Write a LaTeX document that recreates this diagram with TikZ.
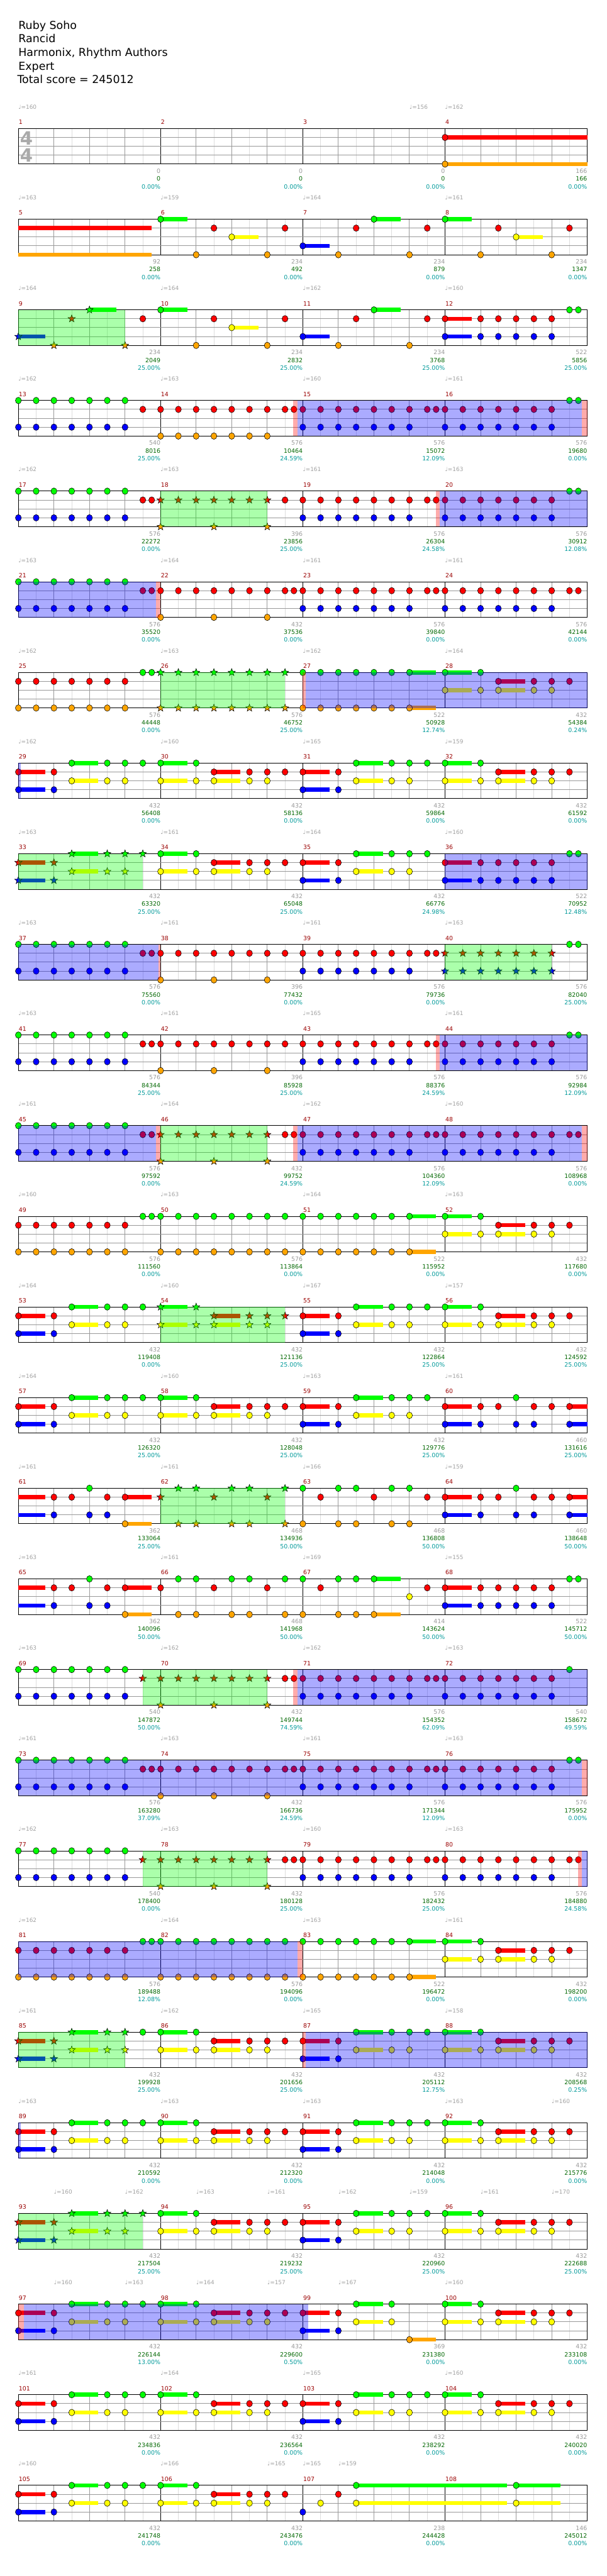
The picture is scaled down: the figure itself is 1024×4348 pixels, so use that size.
\documentclass[tikz,border=0pt]{standalone}
\usepackage{fontspec}
\setmainfont{DejaVu Sans}
\definecolor{lnG}{HTML}{00FF00}
\definecolor{lnR}{HTML}{FF0000}
\definecolor{lnY}{HTML}{FFFF00}
\definecolor{lnB}{HTML}{0000FF}
\definecolor{lnO}{HTML}{FFA500}
\definecolor{tempogray}{HTML}{A0A0A0}
\definecolor{mnumred}{HTML}{990000}
\definecolor{ptsgray}{HTML}{999999}
\definecolor{ptsgreen}{HTML}{006600}
\definecolor{ptsteal}{HTML}{009999}
\definecolor{halfgray}{HTML}{DDDDDD}
\definecolor{beatgray}{HTML}{999999}
\definecolor{sigray}{HTML}{AAAAAA}
\def\lyG{0}\def\lyR{15}\def\lyY{30}\def\lyB{45}\def\lyO{60}
\tikzset{
  halfline/.style={halfgray,line width=1pt},
  beatline/.style={beatgray,line width=1pt},
  barline/.style={black,line width=1pt},
  laneline/.style={beatgray,line width=1pt},
  frame/.style={black,line width=1pt},
  gem/.style={draw=black,line width=0.6pt},
  tempotext/.style={anchor=base west,inner sep=0pt,text=tempogray,font=\fontsize{9.5}{11}\selectfont},
  mnum/.style={anchor=base west,inner sep=0pt,text=mnumred,font=\fontsize{10}{12}\selectfont},
  mpts/.style={anchor=base east,inner sep=0pt,text=ptsgray,font=\fontsize{10}{12}\selectfont},
  mtot/.style={anchor=base east,inner sep=0pt,text=ptsgreen,font=\fontsize{10}{12}\selectfont},
  mpct/.style={anchor=base east,inner sep=0pt,text=ptsteal,font=\fontsize{10}{12}\selectfont},
  titletext/.style={anchor=base west,inner sep=0pt,font=\fontsize{18.5}{22}\selectfont},
  sigtext/.style={inner sep=0pt,text=sigray,font=\fontsize{31}{31}\selectfont\bfseries}
}
% one row of four measures
\newcommand\staff[2]{%
  \pgfmathsetmacro\T{217+153*(#1-1)}%
  \pgfmathtruncatemacro\rownum{#1}%
  \def\gA{-1}\def\gB{-1}%
  \foreach \i in {1,3,...,31} \draw[halfline] ({31+30*\i},\T) -- ({31+30*\i},{\T+60});
  \foreach \i in {1,2,3,5,6,7,9,10,11,13,14,15} \draw[beatline] ({31+60*\i},\T) -- ({31+60*\i},{\T+60});
  \foreach \i in {1,2,3} \draw[barline] ({31+240*\i},\T) -- ({31+240*\i},{\T+60});
  \foreach \j in {15,30,45} \draw[laneline] (31,{\T+\j}) -- (991,{\T+\j});
  \draw[frame] (31,\T) rectangle (991,{\T+60});
  \foreach \m/\mpts/\mtot/\mpct [count=\k] in {#2}{
    \node[mnum] (m\m) at ({31.5+240*\k-240},{\T-7}) {\m};
    \node[mpts] (pts\m) at ({31+240*\k},{\T+75.5}) {\mpts};
    \node[mtot] (tot\m) at ({31+240*\k},{\T+88.5}) {\mtot};
    \node[mpct] (pct\m) at ({31+240*\k},{\T+101.5}) {\mpct\%};
  }}
\newcommand\tempi[1]{\foreach \p/\v in {#1}{\node[tempotext] (t\rownum-\p) at ({31+15*\p},{\T-33}) {♩=\v};}}
\newcommand\spark[2]{\def\gA{#1}\def\gB{#2}}
\newcommand\ovl[3]{\fill[#1,opacity=0.33] ({31+15*(#2)},\T) rectangle ({31+15*(#3)},{\T+60});}
\newcommand\gem[2]{%
  \pgfmathsetmacro\pp{#2}%
  \pgfmathsetmacro\gx{31+15*\pp}%
  \pgfmathsetmacro\gy{\T+\csname ly#1\endcsname}%
  \pgfmathtruncatemacro\isst{and(\pp>=\gA,\pp<=\gB)}%
  \ifnum\isst=1
    \filldraw[gem,fill=ln#1] ([shift={(90:6.5pt)}]\gx,\gy)
      \foreach \k/\rr in {1/2.7,2/6.5,3/2.7,4/6.5,5/2.7,6/6.5,7/2.7,8/6.5,9/2.7}
        {-- ([shift={(90+36*\k:\rr pt)}]\gx,\gy)} -- cycle;
  \else
    \filldraw[gem,fill=ln#1] (\gx,\gy) ellipse [x radius=5pt,y radius=5.5pt];
  \fi}
\newcommand\tail[3]{%
  \pgfmathsetmacro\ta{31+15*(#2)}\pgfmathsetmacro\tb{31+15*(#3)}%
  \pgfmathsetmacro\gy{\T+\csname ly#1\endcsname}%
  \fill[ln#1] (\ta,{\gy-3.5}) rectangle (\tb,{\gy+3.5});}
\newcommand\sus[3]{\tail{#1}{#2}{#2+#3}\gem{#1}{#2}}
\newcommand\run[3]{\pgfmathtruncatemacro\ra{#2}\pgfmathtruncatemacro\rb{#2+2}\pgfmathtruncatemacro\rc{#3}\foreach \q in {\ra,\rb,...,\rc}{\gem{#1}{\q}}}
% measure patterns, #1 = offset in sixteenths
\newcommand\introA[1]{\sus{G}{#1}{3}\gem{O}{#1+4}\gem{R}{#1+6}\sus{Y}{#1+8}{3}\gem{O}{#1+12}\gem{R}{#1+14}}
\newcommand\introB[1]{\sus{B}{#1}{3}\gem{O}{#1+4}\gem{R}{#1+6}\sus{G}{#1+8}{3}\gem{O}{#1+12}\gem{R}{#1+14}}
\newcommand\introC[1]{\sus{R}{#1}{3}\sus{B}{#1}{3}\run{R}{#1+4}{#1+12}\run{B}{#1+4}{#1+12}\gem{G}{#1+14}\gem{G}{#1+15}}
\newcommand\chorusA[1]{\run{G}{#1}{#1+12}\run{B}{#1}{#1+12}}
\newcommand\chorusB[1]{\run{R}{#1}{#1+14}\gem{O}{#1}\gem{O}{#1+6}\gem{O}{#1+12}}
\newcommand\chorusC[1]{\run{R}{#1}{#1+12}\run{B}{#1}{#1+12}\gem{R}{#1+14}\gem{R}{#1+15}}
\newcommand\chorusD[1]{\run{R}{#1}{#1+12}\run{B}{#1}{#1+12}}
\newcommand\bridgeA[1]{\run{R}{#1}{#1+12}\run{O}{#1}{#1+12}\gem{G}{#1+14}\gem{G}{#1+15}}
\newcommand\bridgeB[1]{\run{G}{#1}{#1+14}\run{O}{#1}{#1+14}}
\newcommand\bridgeC[1]{\run{G}{#1}{#1+10}\run{O}{#1}{#1+10}\sus{G}{#1+12}{3}\sus{O}{#1+12}{3}}
\newcommand\bridgeD[1]{\sus{G}{#1}{3}\sus{Y}{#1}{3}\gem{G}{#1+4}\gem{Y}{#1+4}\sus{R}{#1+6}{3}\sus{Y}{#1+6}{3}\gem{R}{#1+10}\gem{Y}{#1+10}\gem{R}{#1+12}\gem{Y}{#1+12}\gem{R}{#1+14}}
\newcommand\verseA[1]{\sus{R}{#1}{3}\sus{B}{#1}{3}\gem{R}{#1+4}\gem{B}{#1+4}\sus{G}{#1+6}{3}\sus{Y}{#1+6}{3}\gem{G}{#1+10}\gem{Y}{#1+10}\gem{G}{#1+12}\gem{Y}{#1+12}\gem{G}{#1+14}}
\newcommand\verseB[1]{\sus{G}{#1}{3}\sus{Y}{#1}{3}\gem{G}{#1+4}\gem{Y}{#1+4}\sus{R}{#1+6}{3}\sus{Y}{#1+6}{3}\gem{R}{#1+10}\gem{Y}{#1+10}\gem{R}{#1+12}\gem{Y}{#1+12}\gem{R}{#1+14}}
\newcommand\breakA[1]{\sus{R}{#1}{3}\sus{B}{#1}{3}\gem{R}{#1+4}\gem{B}{#1+4}\gem{R}{#1+6}\gem{G}{#1+8}\gem{B}{#1+8}\gem{R}{#1+10}\gem{B}{#1+10}\gem{R}{#1+12}\sus{R}{#1+14}{2}\sus{B}{#1+14}{2}}
\newcommand\breakB{\tail{R}{0}{3}\tail{B}{0}{3}\gem{R}{4}\gem{B}{4}\gem{R}{6}\gem{G}{8}\gem{B}{8}\gem{R}{10}\gem{B}{10}\sus{R}{12}{3}\sus{O}{12}{3}}
\newcommand\stabA[1]{\gem{R}{#1}\gem{R}{#1+6}\gem{R}{#1+12}\foreach \q in {2,4,8,10,14}{\gem{G}{#1+\q}\gem{O}{#1+\q}}}
\newcommand\stabB[1]{\foreach \q in {0,4,6,10,12}{\gem{G}{#1+\q}\gem{O}{#1+\q}}\gem{R}{#1+2}\gem{R}{#1+8}\gem{R}{#1+14}}
\begin{document}
\begin{tikzpicture}[x=1pt,y=-1pt]
\useasboundingbox (0,0) rectangle (1024,4348);
\node[titletext] (song) at (31,49) {Ruby Soho};
\node[titletext] (artist) at (31,72) {Rancid};
\node[titletext] (charter) at (31,95) {Harmonix, Rhythm Authors};
\node[titletext] (level) at (31,118) {Expert};
\node[titletext] (total) at (29,141) {Total score = 245012};

\staff{1}{1/0/0/0.00,2/0/0/0.00,3/0/0/0.00,4/166/166/0.00}
\tempi{0/160,44/156,48/162}
\node[sigtext] (sigtop) at (44.5,233) {4};
\node[sigtext] (sigbot) at (44.5,262.5) {4};
\sus{R}{48}{16}\sus{O}{48}{16}

\staff{2}{5/92/258/0.00,6/234/492/0.00,7/234/879/0.00,8/234/1347/0.00}
\tempi{0/163,16/159,32/164,48/161}
\tail{R}{0}{15}\tail{O}{0}{15}\introA{16}\introB{32}\introA{48}

\staff{3}{9/234/2049/25.00,10/234/2832/25.00,11/234/3768/25.00,12/522/5856/25.00}
\tempi{0/164,16/164,32/162,48/160}
\spark{0}{12}
\introB{0}\introA{16}\introB{32}\introC{48}
\ovl{green}{0}{12}

\staff{4}{13/540/8016/25.00,14/576/10464/24.59,15/576/15072/12.09,16/576/19680/0.00}
\tempi{0/162,16/163,32/160,48/161}
\chorusA{0}\gem{R}{14}\run{R}{16}{30}\gem{R}{31}\run{O}{16}{28}\chorusC{32}\chorusD{48}\gem{G}{62}\gem{G}{63}
\ovl{red}{30.9}{31.4}\ovl{blue}{31.4}{63.4}\ovl{red}{63.4}{64}

\staff{5}{17/576/22272/0.00,18/396/23856/25.00,19/576/26304/24.58,20/576/30912/12.08}
\tempi{0/162,16/163,32/161,48/163}
\spark{16}{28}
\chorusA{0}\gem{R}{14}\gem{R}{15}\chorusB{16}\chorusC{32}\chorusD{48}\gem{G}{62}\gem{G}{63}
\ovl{green}{16}{28}\ovl{red}{47}{47.4}\ovl{blue}{47.4}{64}

\staff{6}{21/576/35520/0.00,22/432/37536/0.00,23/576/39840/0.00,24/576/42144/0.00}
\tempi{0/163,16/164,32/161,48/161}
\chorusA{0}\gem{R}{14}\gem{R}{15}\chorusB{16}\gem{R}{31}\chorusC{32}\chorusD{48}\gem{R}{62}\gem{R}{63}
\ovl{blue}{0}{15.5}\ovl{red}{15.5}{16}

\staff{7}{25/576/44448/0.00,26/576/46752/25.00,27/522/50928/12.74,28/432/54384/0.24}
\tempi{0/162,16/163,32/162,48/164}
\spark{16}{30}
\bridgeA{0}\bridgeB{16}\bridgeC{32}\bridgeD{48}
\ovl{green}{16}{30}\ovl{red}{32}{32.3}\ovl{blue}{32.3}{64}

\staff{8}{29/432/56408/0.00,30/432/58136/0.00,31/432/59864/0.00,32/432/61592/0.00}
\tempi{0/162,16/160,32/165,48/159}
\verseA{0}\verseB{16}\verseA{32}\verseB{48}
\ovl{blue}{0}{0.25}

\staff{9}{33/432/63320/25.00,34/432/65048/25.00,35/432/66776/24.98,36/522/70952/12.48}
\tempi{0/163,16/161,32/164,48/160}
\spark{0}{14}
\verseA{0}\verseB{16}\verseA{32}\introC{48}
\ovl{green}{0}{14}\ovl{blue}{48}{64}

\staff{10}{37/576/75560/0.00,38/396/77432/0.00,39/576/79736/0.00,40/576/82040/25.00}
\tempi{0/163,16/161,32/161,48/163}
\spark{48}{60}
\chorusA{0}\gem{R}{14}\gem{R}{15}\chorusB{16}\chorusC{32}\chorusD{48}\gem{G}{62}\gem{G}{63}
\ovl{blue}{0}{15.8}\ovl{red}{15.8}{16}\ovl{green}{48}{60}

\staff{11}{41/576/84344/25.00,42/396/85928/25.00,43/576/88376/24.59,44/576/92984/12.09}
\tempi{0/163,16/161,32/165,48/161}
\chorusA{0}\gem{R}{14}\gem{R}{15}\chorusB{16}\chorusC{32}\chorusD{48}\gem{G}{62}\gem{G}{63}
\ovl{red}{47}{47.4}\ovl{blue}{47.4}{64}

\staff{12}{45/576/97592/0.00,46/432/99752/24.59,47/576/104360/12.09,48/576/108968/0.00}
\tempi{0/161,16/164,32/162,48/160}
\spark{16}{28}
\chorusA{0}\gem{R}{14}\gem{R}{15}\chorusB{16}\gem{R}{31}\chorusC{32}\chorusD{48}\gem{R}{62}\gem{R}{63}
\ovl{blue}{0}{15.5}\ovl{red}{15.5}{16}\ovl{green}{16}{28}\ovl{red}{30.9}{31.4}\ovl{blue}{31.4}{63.4}\ovl{red}{63.4}{64}

\staff{13}{49/576/111560/0.00,50/576/113864/0.00,51/522/115952/0.00,52/432/117680/0.00}
\tempi{0/160,16/163,32/164,48/163}
\bridgeA{0}\bridgeB{16}\bridgeC{32}\bridgeD{48}

\staff{14}{53/432/119408/0.00,54/432/121136/25.00,55/432/122864/25.00,56/432/124592/25.00}
\tempi{0/164,16/160,32/167,48/157}
\spark{16}{30}
\verseA{0}\verseB{16}\verseA{32}\verseB{48}
\ovl{green}{16}{30}

\staff{15}{57/432/126320/25.00,58/432/128048/25.00,59/432/129776/25.00,60/460/131616/25.00}
\tempi{0/164,16/160,32/163,48/161}
\verseA{0}\verseB{16}\verseA{32}\breakA{48}

\staff{16}{61/362/133064/25.00,62/468/134936/50.00,63/468/136808/50.00,64/460/138648/50.00}
\tempi{0/161,16/161,32/166,48/159}
\spark{16}{30}
\breakB\stabA{16}\stabB{32}\breakA{48}
\ovl{green}{16}{30}

\staff{17}{65/362/140096/50.00,66/468/141968/50.00,67/414/143624/50.00,68/522/145712/50.00}
\tempi{0/163,16/161,32/169,48/155}
\breakB\stabA{16}
\foreach \q in {32,36,38}{\gem{G}{\q}\gem{O}{\q}}\sus{G}{40}{3}\sus{O}{40}{3}\gem{R}{34}\gem{R}{46}\gem{Y}{44}
\introC{48}

\staff{18}{69/540/147872/50.00,70/432/149744/74.59,71/576/154352/62.09,72/540/158672/49.59}
\tempi{0/163,16/162,32/162,48/163}
\spark{14}{28}
\chorusA{0}\gem{R}{14}\chorusB{16}\gem{R}{31}\chorusC{32}\chorusD{48}\gem{G}{62}
\ovl{green}{14}{28}\ovl{red}{30.9}{31.4}\ovl{blue}{31.4}{64}

\staff{19}{73/576/163280/37.09,74/432/166736/24.59,75/576/171344/12.09,76/576/175952/0.00}
\tempi{0/161,16/163,32/161,48/163}
\chorusA{0}\gem{R}{14}\gem{R}{15}\chorusB{16}\gem{R}{31}\chorusC{32}\chorusD{48}\gem{G}{62}\gem{G}{63}
\ovl{blue}{0}{63.4}\ovl{red}{63.4}{64}

\staff{20}{77/540/178400/0.00,78/432/180128/25.00,79/576/182432/25.00,80/576/184880/24.58}
\tempi{0/162,16/163,32/160,48/163}
\spark{14}{28}
\chorusA{0}\gem{R}{14}\chorusB{16}\gem{R}{31}\chorusC{32}\chorusD{48}\gem{R}{62}\gem{R}{63}
\ovl{green}{14}{28}\ovl{red}{63}{63.4}\ovl{blue}{63.4}{64}

\staff{21}{81/576/189488/12.08,82/576/194096/0.00,83/522/196472/0.00,84/432/198200/0.00}
\tempi{0/162,16/164,32/163,48/161}
\bridgeA{0}\bridgeB{16}\bridgeC{32}\bridgeD{48}
\ovl{blue}{0}{31.4}\ovl{red}{31.4}{32}

\staff{22}{85/432/199928/25.00,86/432/201656/25.00,87/432/205112/12.75,88/432/208568/0.25}
\tempi{0/161,16/162,32/165,48/158}
\spark{0}{12}
\verseA{0}\verseB{16}\verseA{32}\verseB{48}
\ovl{green}{0}{12}\ovl{red}{32}{32.3}\ovl{blue}{32.3}{64}

\staff{23}{89/432/210592/0.00,90/432/212320/0.00,91/432/214048/0.00,92/432/215776/0.00}
\tempi{0/163,16/163,32/163,48/163,60/160}
\verseA{0}\verseB{16}\verseA{32}\verseB{48}
\ovl{blue}{0}{0.25}

\staff{24}{93/432/217504/25.00,94/432/219232/25.00,95/432/220960/25.00,96/432/222688/25.00}
\tempi{4/160,12/162,20/163,28/161,36/162,44/159,52/161,60/170}
\spark{0}{14}
\verseA{0}\verseB{16}\verseA{32}\verseB{48}
\ovl{green}{0}{14}

\staff{25}{97/432/226144/13.00,98/432/229600/0.50,99/369/231380/0.00,100/432/233108/0.00}
\tempi{4/160,12/163,20/164,28/157,36/167,48/160}
\verseA{0}\verseB{16}
\sus{R}{32}{3}\sus{B}{32}{3}\gem{R}{36}\gem{B}{36}\sus{G}{38}{3}\sus{Y}{38}{3}\gem{G}{42}\gem{Y}{42}\sus{O}{44}{3}
\verseB{48}
\ovl{red}{0}{0.6}\ovl{blue}{0.6}{32.6}

\staff{26}{101/432/234836/0.00,102/432/236564/0.00,103/432/238292/0.00,104/432/240020/0.00}
\tempi{0/161,16/164,32/165,48/160}
\verseA{0}\verseB{16}\verseA{32}\verseB{48}

\staff{27}{105/432/241748/0.00,106/432/243476/0.00,107/238/244428/0.00,108/146/245012/0.00}
\tempi{0/160,16/166,28/165,32/165,36/159}
\verseA{0}\verseB{16}
\gem{B}{32}\gem{Y}{34}\gem{R}{36}\sus{G}{38}{17}\sus{Y}{38}{17}\sus{G}{56}{5}\sus{Y}{56}{5}
\end{tikzpicture}
\end{document}
